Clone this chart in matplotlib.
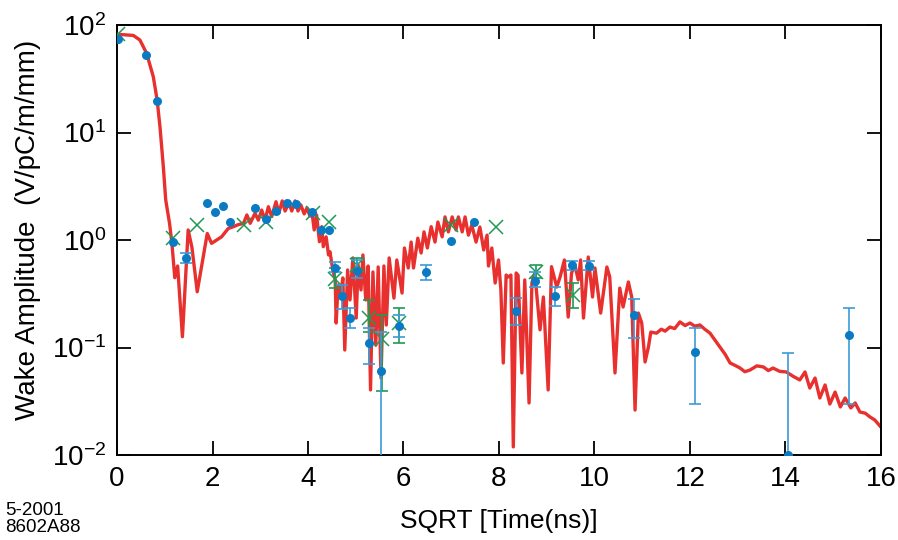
import numpy as np
import matplotlib
matplotlib.use('Agg')
import matplotlib.pyplot as plt

plt.rcParams['font.family'] = ['Liberation Sans', 'DejaVu Sans']
plt.rcParams['mathtext.fontset'] = 'custom'
plt.rcParams['mathtext.rm'] = 'Liberation Sans'
plt.rcParams['mathtext.it'] = 'Liberation Sans'

# calculated wake (red curve)
calc_x = [0.00, 0.34, 0.48, 0.62, 0.76, 0.84, 0.90, 0.97, 1.02, 1.10, 1.15, 1.19, 1.21, 1.27,
          1.37, 1.49, 1.57, 1.68, 1.78, 1.89, 1.98, 2.19, 2.33, 2.44, 2.52, 2.65, 2.72, 2.79,
          2.89, 2.96, 3.03, 3.10, 3.17, 3.24, 3.33, 3.39, 3.46, 3.52, 3.60, 3.66, 3.73, 3.79,
          3.85, 3.92, 3.98, 4.04, 4.08, 4.13, 4.18, 4.24, 4.29, 4.32, 4.38, 4.43, 4.46, 4.52,
          4.57, 4.59, 4.63, 4.69, 4.73, 4.77, 4.83, 4.88, 4.94, 5.01, 5.05, 5.11, 5.15, 5.21,
          5.26, 5.31, 5.36, 5.42, 5.47, 5.53, 5.59, 5.64, 5.70, 5.80, 5.86, 5.97, 6.02, 6.10,
          6.16, 6.21, 6.30, 6.37, 6.43, 6.50, 6.58, 6.66, 6.72, 6.81, 6.87, 6.94, 7.02, 7.10,
          7.15, 7.23, 7.29, 7.36, 7.43, 7.52, 7.60, 7.68, 7.75, 7.78, 7.85, 7.92, 7.99, 8.04,
          8.09, 8.15, 8.19, 8.25, 8.30, 8.36, 8.40, 8.48, 8.54, 8.63, 8.69, 8.75, 8.86, 8.93,
          9.03, 9.10, 9.21, 9.28, 9.37, 9.45, 9.52, 9.59, 9.66, 9.71, 9.77, 9.87, 9.96, 10.01,
          10.13, 10.26, 10.32, 10.43, 10.53, 10.60, 10.71, 10.78, 10.85, 10.92, 10.99, 11.06,
          11.13, 11.18, 11.30, 11.40, 11.48, 11.58, 11.68, 11.79, 11.90, 12.00, 12.10, 12.21,
          12.31, 12.42, 12.52, 12.63, 12.74, 12.84, 12.95, 13.05, 13.15, 13.26, 13.40, 13.54,
          13.64, 13.74, 13.88, 14.02, 14.16, 14.30, 14.41, 14.51, 14.62, 14.72, 14.83, 14.93,
          15.04, 15.15, 15.25, 15.37, 15.46, 15.56, 15.67, 15.77, 15.87, 15.98]
calc_y = [82, 80, 72.5, 54.5, 33.0, 20.1, 11.3, 4.81, 2.36, 1.43, 0.931, 0.565, 0.446, 0.573,
          0.126, 1.24, 0.85, 0.330, 0.60, 1.15, 0.931, 1.07, 1.28, 1.33, 1.38, 1.43, 1.71, 1.43,
          1.77, 1.53, 1.90, 1.53, 2.04, 1.65, 2.27, 1.78, 2.31, 1.86, 2.21, 1.86, 2.31, 1.86,
          2.12, 1.75, 1.99, 1.67, 1.86, 1.24, 1.71, 0.964, 1.33, 0.867, 1.07, 0.725, 0.778, 0.526,
          0.425, 0.169, 0.381, 0.321, 0.444, 0.0948, 0.526, 0.277, 0.681, 0.188, 0.585, 0.343, 0.725, 0.277,
          0.573, 0.0403, 0.504, 0.105, 0.561, 0.052, 0.573, 0.162, 0.681, 0.288, 0.652, 0.321, 0.843, 0.549,
          0.957, 0.549, 1.04, 0.757, 1.19, 0.843, 1.33, 0.957, 1.47, 1.07, 1.64, 1.19, 1.64, 1.24,
          1.64, 1.19, 1.64, 1.11, 1.38, 0.957, 1.32, 0.807, 1.11, 0.573, 0.843, 0.398, 0.652, 0.343,
          0.0718, 0.472, 0.453, 0.472, 0.0119, 0.493, 0.47, 0.058, 0.425, 0.0305, 0.40, 0.493, 0.146, 0.295,
          0.0403, 0.565, 0.365, 0.453, 0.652, 0.192, 0.493, 0.585, 0.425, 0.652, 0.188, 0.695, 0.295, 0.549,
          0.209, 0.561, 0.453, 0.058, 0.357, 0.238, 0.407, 0.295, 0.0262, 0.209, 0.169, 0.0733,
          0.101, 0.139, 0.136, 0.148, 0.142, 0.155, 0.150, 0.173, 0.160, 0.169, 0.158, 0.162,
          0.148, 0.136, 0.118, 0.101, 0.086, 0.0718, 0.068, 0.0644, 0.0595, 0.0618, 0.0675, 0.0659,
          0.0610, 0.0644, 0.0600, 0.0592, 0.0540, 0.0499, 0.0592, 0.0420, 0.052, 0.0339, 0.0448, 0.0298,
          0.0385, 0.028, 0.0339, 0.0274, 0.0305, 0.0251, 0.0245, 0.0226, 0.0212, 0.0186]

# measured wake, blue dots
blue_x = [0.02, 0.61, 0.84, 1.17, 1.44, 1.88, 2.06, 2.21, 2.37, 2.90, 3.13, 3.34, 3.55, 3.75,
          4.09, 4.27, 4.44, 4.57, 4.71, 4.88, 5.03, 5.28, 5.53, 5.91, 6.47, 6.99, 7.47, 8.36,
          8.75, 9.17, 9.53, 9.88, 10.83, 12.10, 14.05, 15.33]
blue_y = [74, 53, 19.6, 0.96, 0.68, 2.22, 1.81, 2.08, 1.46, 2.0, 1.58, 1.86, 2.19, 2.16,
          1.83, 1.24, 1.24, 0.55, 0.30, 0.19, 0.52, 0.11, 0.06, 0.16, 0.50, 0.97, 1.47, 0.22,
          0.42, 0.30, 0.58, 0.57, 0.20, 0.091, 0.01, 0.13]
nan = np.nan
blue_lo = [nan, nan, nan, nan, 0.61, nan, nan, nan, nan, nan, nan, nan, nan, nan,
           nan, nan, nan, 0.503, 0.228, 0.152, 0.443, 0.0703, 0.001, 0.125, 0.425, nan, nan, 0.162,
           0.365, 0.243, 0.526, 0.526, 0.122, 0.0298, 0.001, 0.0298]
blue_hi = [nan, nan, nan, nan, 0.757, nan, nan, nan, nan, nan, nan, nan, nan, nan,
           nan, nan, nan, 0.624, 0.381, 0.233, 0.652, 0.152, 0.140, 0.20, 0.585, nan, nan, 0.288,
           0.50, 0.365, 0.638, 0.638, 0.282, 0.152, 0.0895, 0.233]

# second measurement, green crosses
green_x = [0.02, 1.18, 1.675, 2.65, 3.13, 4.10, 4.43, 4.57, 5.02, 5.28, 5.54, 5.91, 6.99, 7.94, 8.77, 9.54]
green_y = [82, 1.04, 1.38, 1.39, 1.48, 1.77, 1.47, 0.43, 0.59, 0.19, 0.12, 0.168, 1.38, 1.31, 0.50, 0.31]
green_lo = [nan, nan, nan, nan, nan, nan, nan, 0.357, 0.526, 0.139, 0.0396, 0.110, nan, nan, 0.443, 0.233]
green_hi = [nan, nan, nan, nan, nan, nan, nan, 0.549, 0.681, 0.277, 0.200, 0.233, nan, nan, 0.585, 0.398]

x_ticks = [0, 2, 4, 6, 8, 10, 12, 14, 16]
y_ticks = [1e-2, 1e-1, 1e0, 1e1, 1e2]


def errs(x, y, lo, hi):
    x, y, lo, hi = map(np.asarray, (x, y, lo, hi))
    m = np.isfinite(lo)
    return x[m], y[m], [y[m] - lo[m], hi[m] - y[m]]


fig = plt.figure(figsize=(8.98, 5.40), dpi=100)
ax = fig.add_axes([0.1303, 0.1574, 0.8507, 0.7963])

ax.plot(calc_x, calc_y, color='#e8302e', lw=2.4, zorder=2)

gx, gy, gerr = errs(green_x, green_y, green_lo, green_hi)
ax.errorbar(gx, gy, yerr=gerr, fmt='none', ecolor='#1f9a55', elinewidth=1.2,
            capsize=4, capthick=1.2, zorder=3)
ax.plot(green_x, green_y, 'x', color='#1f9a55', ms=10, mew=1.1, zorder=4)

bx, by, berr = errs(blue_x, blue_y, blue_lo, blue_hi)
ax.errorbar(bx, by, yerr=berr, fmt='none', ecolor='#3c9bd8', elinewidth=1.2,
            capsize=4, capthick=1.2, zorder=5)
ax.plot(blue_x, blue_y, 'o', color='#0a7bc3', ms=6.5, mec='none', zorder=6)

ax.set_yscale('log')
ax.set_xlim(0, 16)
ax.set_ylim(1e-2, 1e2)
ax.set_xticks(x_ticks)
ax.set_yticks(y_ticks)
ax.minorticks_off()
ax.tick_params(which='both', direction='in', top=True, right=True,
               length=10, width=1.3, labelsize=20, pad=8)
for s in ax.spines.values():
    s.set_linewidth(1.4)

fig.text(0.031, 0.574, 'Wake Amplitude  (V/pC/m/mm)', rotation=90,
         ha='center', va='center', fontsize=20)
fig.text(0.556, 0.035, 'SQRT [Time(ns)]', ha='center', va='center', fontsize=19)
fig.text(0.006, 0.039, '5-2001\n8602A88', ha='left', va='center', fontsize=13.5,
         linespacing=1.0)

fig.savefig('out.png', dpi=100)
